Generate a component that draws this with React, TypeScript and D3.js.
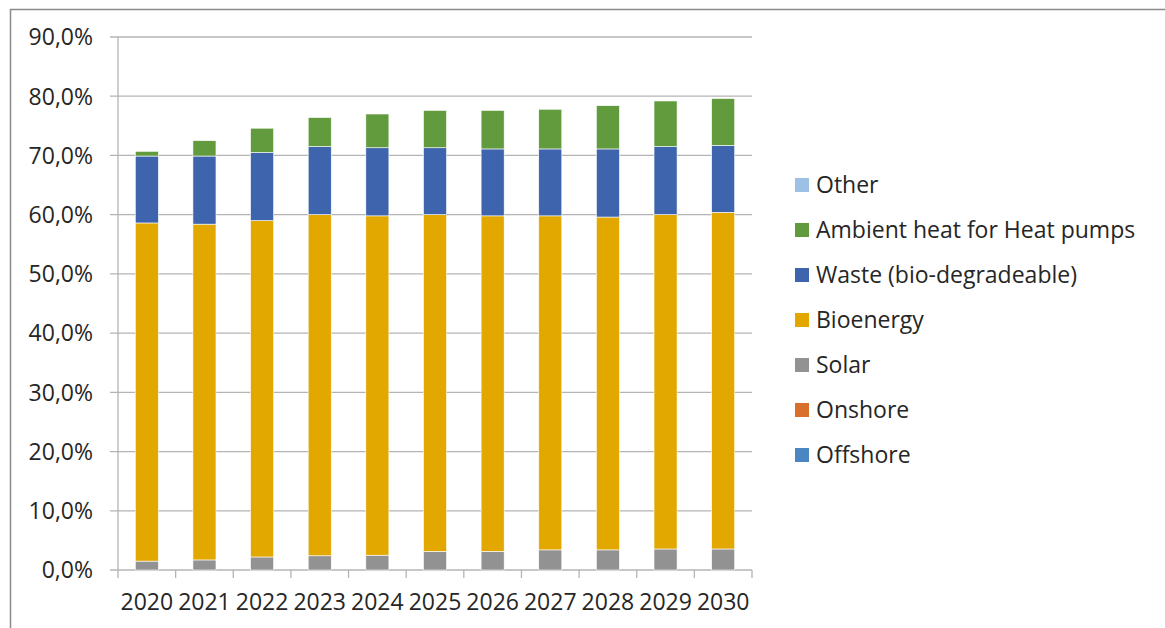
import React from "react";
import * as d3 from "d3";

const years = ["2020","2021","2022","2023","2024","2025","2026","2027","2028","2029","2030"];
const offshore = [0,0,0,0,0,0,0,0,0,0,0];
const onshore = [0,0,0,0,0,0,0,0,0,0,0];
const solar = [1.5,1.7,2.2,2.4,2.5,3.15,3.15,3.4,3.4,3.55,3.55];
const bioenergy = [57.1,56.7,56.8,57.6,57.3,56.85,56.65,56.4,56.2,56.45,56.85];
const waste = [11.3,11.5,11.5,11.5,11.5,11.3,11.3,11.3,11.5,11.5,11.3];
const ambient = [0.8,2.6,4.1,4.9,5.7,6.3,6.5,6.7,7.3,7.7,7.9];
const other = [0,0,0,0,0,0,0,0,0,0,0];
const yTicks = [0,10,20,30,40,50,60,70,80,90];

const seriesNames = ["Offshore","Onshore","Solar","Bioenergy","Waste (bio-degradeable)","Ambient heat for Heat pumps","Other"];
const seriesValues = [offshore, onshore, solar, bioenergy, waste, ambient, other];
const seriesColors = ["#4A87C2","#D8702C","#929292","#E2A800","#3D64AD","#629B3E","#9DC1E4"];

export default function App() {
  const W = 1165, H = 628;
  const left = 118, right = 752, top = 37, bottom = 570;
  const x = d3.scaleBand().domain(years).range([left, right]).paddingInner(0.6).paddingOuter(0.3);
  const y = d3.scaleLinear().domain([0, 90]).range([bottom, top]);
  const rows = years.map((yr, i) => {
    const o: any = { year: yr };
    seriesNames.forEach((n, k) => (o[n] = seriesValues[k][i]));
    return o;
  });
  const stacked = d3.stack().keys(seriesNames)(rows);
  const step = (right - left) / years.length;
  const font = "'Open Sans', sans-serif";
  const fs = 23;
  const legendOrder = [...seriesNames].reverse();
  return (
    <svg width={W} height={H} style={{ position: "fixed", left: 0, top: 0, background: "#fff" }} fontFamily={font}>
      <line x1={10} x2={W} y1={9.5} y2={9.5} stroke="#8a8a8a" strokeWidth={1.5} />
      <line x1={10.5} x2={10.5} y1={9} y2={H} stroke="#8a8a8a" strokeWidth={1.5} />
      {yTicks.map((t) => (
        <g key={t}>
          <line x1={left - 8} x2={right} y1={y(t)} y2={y(t)} stroke="#b4b4b4" strokeWidth={1.3} />
          <text x={93} y={y(t)} dy="0.36em" textAnchor="end" fontSize={fs} fill="#262626">
            {d3.format(".1f")(t).replace(".", ",") + "%"}
          </text>
        </g>
      ))}
      <line x1={left} x2={left} y1={top} y2={bottom} stroke="#b4b4b4" strokeWidth={1.3} />
      {years.map((yr, i) => (
        <line key={"t" + yr} x1={left + i * step} x2={left + i * step} y1={bottom} y2={bottom + 8} stroke="#b4b4b4" strokeWidth={1.3} />
      ))}
      <line x1={right} x2={right} y1={bottom} y2={bottom + 8} stroke="#b4b4b4" strokeWidth={1.3} />
      {stacked.map((s, k) => (
        <g key={s.key} fill={seriesColors[k]}>
          {s.map((d, i) =>
            d[1] - d[0] > 0 ? (
              <rect key={i} x={x(years[i])} width={x.bandwidth()} y={y(d[1])} height={y(d[0]) - y(d[1])} stroke="#fff" strokeWidth={0.6} />
            ) : null
          )}
        </g>
      ))}
      {years.map((yr) => (
        <text key={"l" + yr} x={x(yr)! + x.bandwidth() / 2} y={602} dy="0.36em" textAnchor="middle" fontSize={fs} fill="#262626">
          {yr}
        </text>
      ))}
      {legendOrder.map((n, j) => {
        const k = seriesNames.indexOf(n);
        const cy = 185 + j * 45;
        return (
          <g key={n}>
            <rect x={795} y={cy - 7} width={14} height={14} fill={seriesColors[k]} />
            <text x={816} y={cy} dy="0.36em" fontSize={fs} fill="#262626">{n}</text>
          </g>
        );
      })}
    </svg>
  );
}
